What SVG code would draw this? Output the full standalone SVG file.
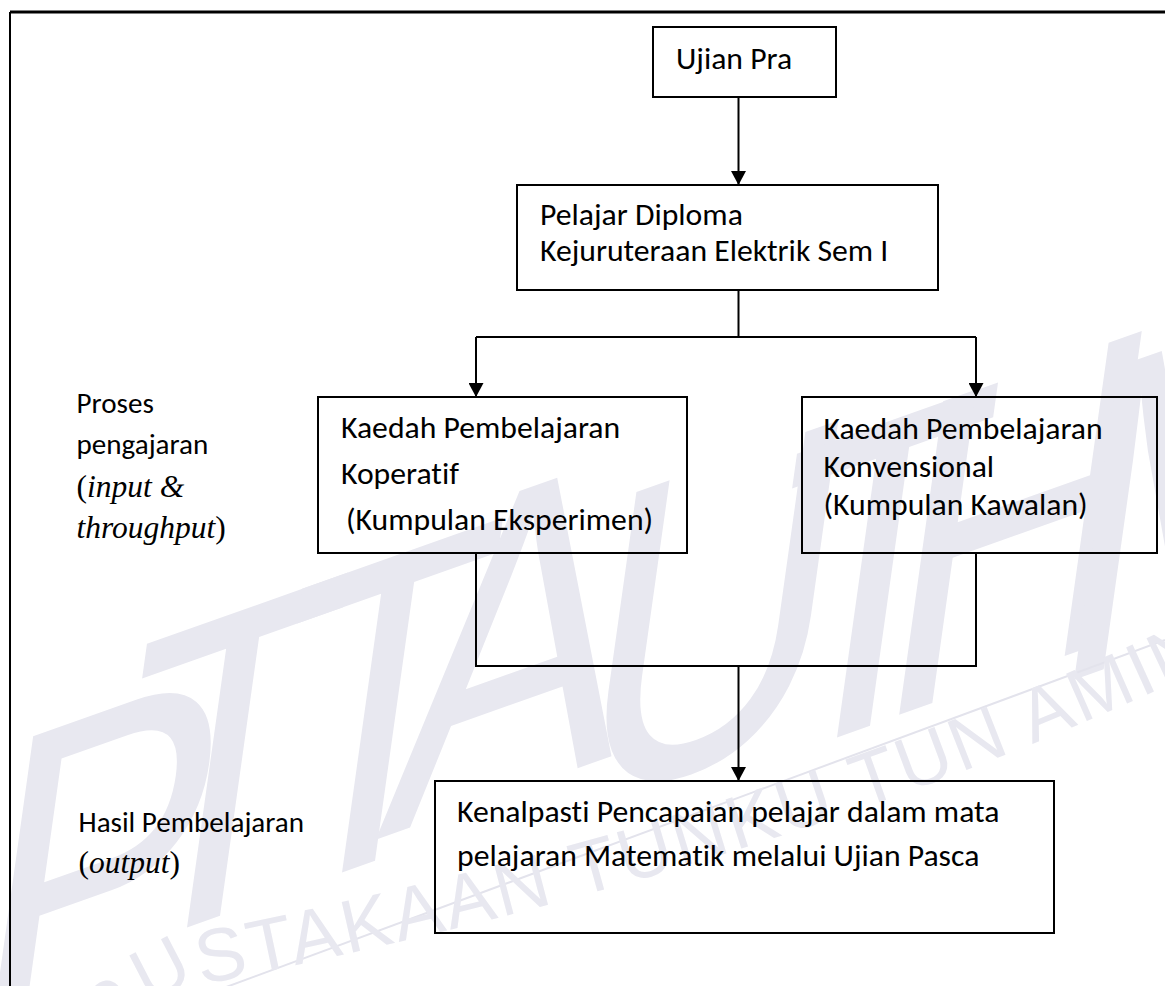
<svg xmlns="http://www.w3.org/2000/svg" width="1165" height="986" viewBox="0 0 1165 986">
<defs>
<marker id="ah" markerUnits="userSpaceOnUse" markerWidth="15" markerHeight="15" refX="14" refY="7.5" orient="auto" viewBox="0 0 15 15">
<path d="M0,0 L14,7.5 L0,15 Z" fill="#000"/>
</marker>
</defs>
<style>
.box{fill:none;stroke:#000;stroke-width:2}
.t{font-family:Carlito,Lato,"Open Sans",sans-serif;font-size:31.7px;fill:#000;font-variant-ligatures:none}
.l{font-family:Carlito,Lato,"Open Sans",sans-serif;font-size:29.1px;fill:#000;font-variant-ligatures:none}
.tm{font-family:"Liberation Serif","Times New Roman",serif;font-size:31.5px;fill:#000}
.c{fill:none;stroke:#000;stroke-width:2}
.wm{fill:#e8e8f0;font-family:"Liberation Sans",Arial,sans-serif}
.wb{font-size:460px}
</style>
<rect width="1165" height="986" fill="#fff"/>
<g id="watermark">
<text class="wm wb" transform="translate(-40,1060) matrix(0.773,-0.274,-0.139,0.99,0,0)">P</text>
<text class="wm wb" transform="translate(95,960) matrix(0.773,-0.274,-0.139,0.99,0,0)">T</text>
<text class="wm wb" transform="translate(250,905) matrix(0.773,-0.274,-0.139,0.99,0,0)">T</text>
<text class="wm wb" transform="translate(375,840) matrix(0.773,-0.274,-0.139,0.99,0,0)">A</text>
<text class="wm wb" transform="translate(565,815) matrix(0.773,-0.274,-0.139,0.99,0,0)">U</text>
<text class="wm wb" transform="translate(745,770) matrix(0.773,-0.274,-0.139,0.99,0,0)">T</text>
<text class="wm wb" transform="translate(870,725) matrix(0.773,-0.274,-0.139,0.99,0,0)">H</text>
<text class="wm wb" transform="translate(1045,690) matrix(0.773,-0.274,-0.139,0.99,0,0)">M</text>
<path d="M210,993 L1165,640" fill="none" stroke="#e3e3ec" stroke-width="2"/>
<path id="wmp" d="M40,1190 Q95,1030 175,990 C400,945 800,860 1200,670" fill="none"/>
<text class="wm" font-size="75" letter-spacing="3"><textPath href="#wmp">PERPUSTAKAAN TUNKU TUN AMINAH</textPath></text>
</g>
<g id="frame">
<path d="M10,12 H1165" stroke="#000" stroke-width="3" fill="none"/>
<path d="M10,12 V986" stroke="#000" stroke-width="2" fill="none"/>
</g>
<g id="connectors">
<path class="c" d="M738.5,97 V185" marker-end="url(#ah)"/>
<path class="c" d="M738.5,290 V337"/>
<path class="c" d="M476,337 H976"/>
<path class="c" d="M476,337 V397" marker-end="url(#ah)"/>
<path class="c" d="M976,337 V397" marker-end="url(#ah)"/>
<path class="c" d="M476,553 V666 H976 V553"/>
<path class="c" d="M738.5,666 V781" marker-end="url(#ah)"/>
</g>
<g id="ujian-pra">
<rect class="box" x="653" y="27" width="183" height="70"/>
<text class="t" x="676" y="69">Ujian Pra</text>
</g>
<g id="pelajar-diploma">
<rect class="box" x="517" y="185" width="421" height="105"/>
<text class="t" x="540" y="225">Pelajar Diploma</text>
<text class="t" x="540" y="261">Kejuruteraan Elektrik Sem I</text>
</g>
<g id="koperatif">
<rect class="box" x="318" y="397" width="369" height="156"/>
<text class="t" x="341" y="438">Kaedah Pembelajaran</text>
<text class="t" x="341" y="484">Koperatif</text>
<text class="t" x="346" y="530">(Kumpulan Eksperimen)</text>
</g>
<g id="konvensional">
<rect class="box" x="802" y="397" width="355" height="156"/>
<text class="t" x="823.5" y="439">Kaedah Pembelajaran</text>
<text class="t" x="823.5" y="477">Konvensional</text>
<text class="t" x="823.5" y="515">(Kumpulan Kawalan)</text>
</g>
<g id="hasil">
<rect class="box" x="435" y="781" width="619" height="152"/>
<text class="t" x="457" y="822">Kenalpasti Pencapaian pelajar dalam mata</text>
<text class="t" x="457" y="866">pelajaran Matematik melalui Ujian Pasca</text>
</g>
<g id="label-proses">
<text class="l" x="76.5" y="413">Proses</text>
<text class="l" x="76.5" y="454">pengajaran</text>
<text class="tm" x="76.5" y="497">(<tspan font-style="italic">input &amp;</tspan></text>
<text class="tm" x="76.5" y="538"><tspan font-style="italic">throughput</tspan>)</text>
</g>
<g id="label-hasil">
<text class="l" x="78.5" y="832">Hasil Pembelajaran</text>
<text class="tm" x="78.5" y="873">(<tspan font-style="italic">output</tspan>)</text>
</g>
</svg>
